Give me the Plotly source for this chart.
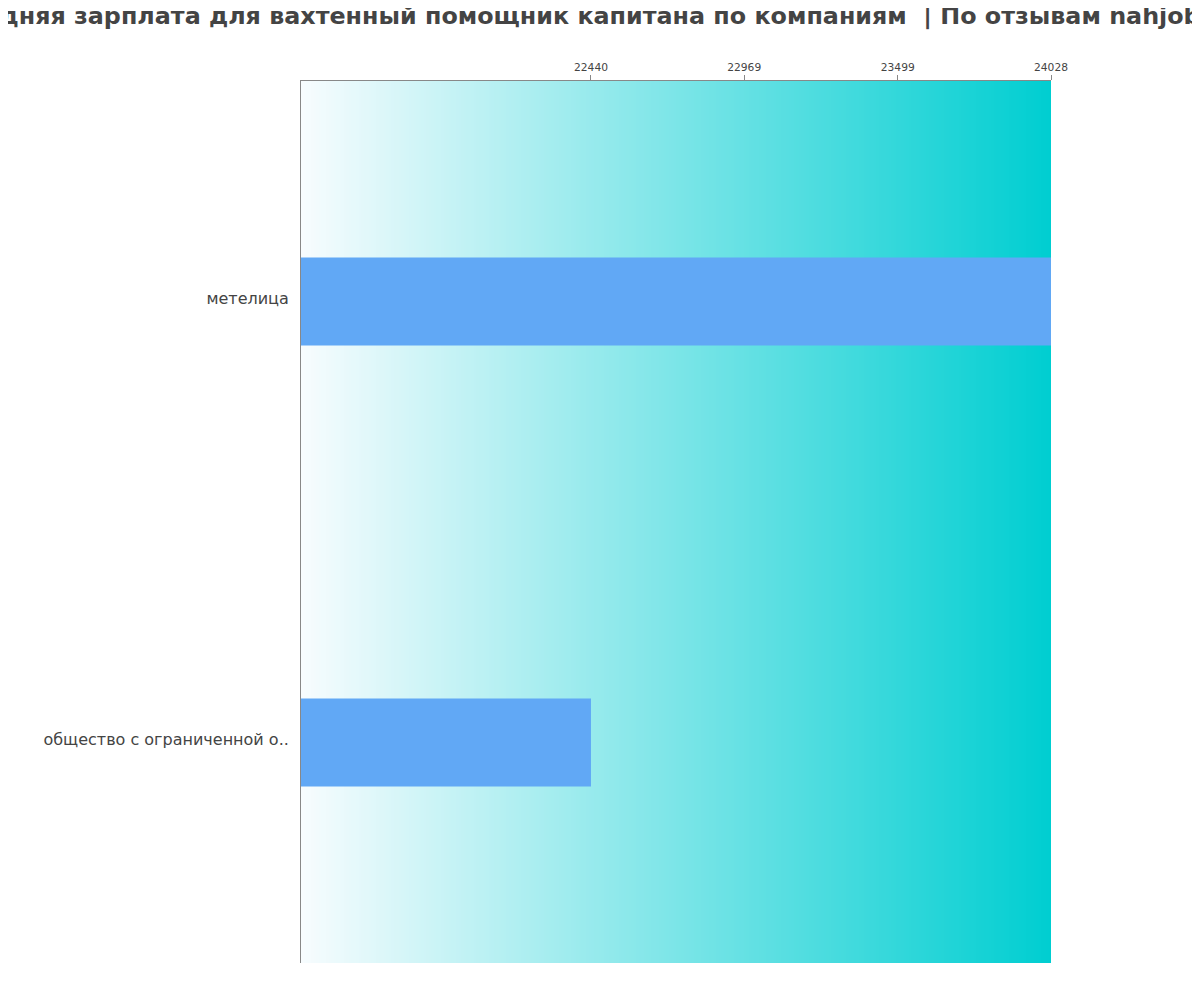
import plotly.graph_objects as go
import numpy as np

companies = ["общество с ограниченной о..", "метелица"]
salaries = [22440, 24028]
tick_values = [22440, 22969, 23499, 24028]
tick_labels = ["22440", "22969", "23499", "24028"]
x_min = 21439
x_max = 24028

title_text = "Средняя зарплата для вахтенный помощник капитана по компаниям  | По отзывам nahjob.ru"

# gradient background built as a heatmap spanning the plot area
n = 300
edges = np.linspace(x_min, x_max, n + 1)
zrow = np.linspace(0, 1, n)

fig = go.Figure()
fig.add_trace(go.Heatmap(
    x=edges, y=[-0.5, 1.5], z=[zrow],
    colorscale=[[0, "#f7fcfe"], [1, "#00ced1"]],
    showscale=False, hoverinfo="skip",
))
fig.add_trace(go.Bar(
    x=salaries, y=list(range(len(companies))), orientation="h",
    width=0.2, marker=dict(color="#61a8f5", line=dict(width=0)),
))

fig.update_layout(
    width=1200, height=1000,
    margin=dict(l=293, r=157, t=73, b=45),
    paper_bgcolor="white", plot_bgcolor="white",
    showlegend=False,
    font=dict(family="DejaVu Sans", color="#444444"),
    title=dict(text="<b>" + title_text + "</b>", x=0.488, xref="container", xanchor="center",
               y=0.992, yref="container", yanchor="middle",
               font=dict(size=23.8, color="#444444", family="DejaVu Sans")),
    xaxis=dict(side="top", range=[x_min, x_max], tickvals=tick_values, ticktext=tick_labels,
               ticks="outside", ticklen=5, tickcolor="#888888", showgrid=False, zeroline=False,
               showline=True, linecolor="#888888", linewidth=1,
               tickfont=dict(size=10.7, color="#444444")),
    yaxis=dict(range=[-0.5, 1.5], tickvals=list(range(len(companies))), ticktext=companies,
               showgrid=False, zeroline=False, showline=True, linecolor="#888888", linewidth=1,
               ticks="", ticklabelstandoff=8, ticklabelshift=-3,
               tickfont=dict(size=16, color="#444444")),
)

fig.write_html("out.html")
